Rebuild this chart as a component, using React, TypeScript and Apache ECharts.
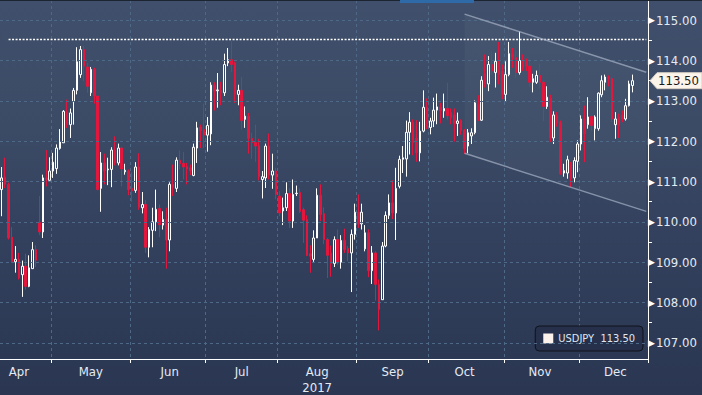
import React, { useEffect, useRef } from 'react';
import * as echarts from 'echarts';

// ---- data ----
const seriesName = 'USDJPY';
const lastPrice = 113.5;
const resistanceLevel = 114.52;
const firstDate = '2017-04-10';
const categoryCount = 189; // 185 trading days + 4 empty slots on the right

const opens = [
  110.80, 111.11, 110.93, 109.62, 109.01, 109.07, 108.69, 108.90, 108.40, 108.84,
  109.31, 109.99, 109.75, 111.09, 111.03, 111.26, 111.32, 111.82, 111.96, 112.73,
  112.41, 112.98, 113.26, 113.65, 114.27, 113.84, 113.20, 113.78, 113.12, 110.83,
  111.46, 111.29, 111.30, 111.78, 111.46, 111.83, 111.24, 111.26, 110.83, 110.78,
  111.36, 110.35, 110.43, 109.37, 109.79, 110.00, 110.33, 109.92, 110.06, 109.55,
  110.93, 110.83, 111.53, 111.45, 111.38, 111.34, 111.15, 111.83, 112.35, 112.29,
  112.15, 112.18, 113.39, 113.25, 113.26, 113.20, 113.94, 114.02, 113.94, 113.16,
  113.26, 112.54, 112.62, 112.07, 111.97, 111.89, 111.05, 111.09, 111.88, 111.16,
  111.26, 110.64, 110.27, 110.35, 110.70, 110.02, 110.70, 110.73, 110.30, 110.06,
  109.21, 109.07, 109.60, 110.66, 110.20, 109.56, 109.23, 108.97, 109.56, 109.00,
  109.54, 109.34, 109.23, 109.69, 110.24, 109.95, 109.33, 109.73, 108.79, 109.23,
  108.45, 108.07, 109.40, 110.16, 110.47, 110.22, 110.88, 111.55, 111.56, 112.22,
  112.47, 112.07, 111.71, 112.25, 112.85, 112.34, 112.50, 112.77, 112.85, 112.75,
  112.81, 112.71, 112.65, 112.44, 112.52, 112.27, 111.88, 112.13, 112.21, 112.91,
  112.52, 113.67, 113.42, 113.90, 113.70, 113.98, 113.74, 113.16, 113.65, 114.17,
  114.07, 113.70, 113.98, 114.00, 113.86, 113.46, 113.46, 113.63, 113.46, 112.86,
  113.07, 112.08, 112.64, 112.47, 111.21, 111.21, 111.48, 111.09, 111.50, 111.93,
  112.55, 112.41, 112.61, 112.31, 112.31, 113.15, 113.46, 113.59, 113.55, 112.41,
  112.60, 112.64, 112.55, 112.88, 113.38,
];
const closes = [
  111.09, 110.93, 109.60, 109.02, 109.07, 108.61, 108.90, 108.40, 108.86, 109.31,
  109.05, 109.75, 111.09, 111.05, 111.26, 111.48, 111.83, 111.98, 112.74, 112.41,
  112.70, 113.26, 113.97, 114.27, 113.86, 113.36, 113.78, 113.12, 110.80, 111.46,
  111.26, 111.31, 111.78, 111.46, 111.83, 111.31, 111.28, 110.80, 110.77, 111.36,
  110.36, 110.43, 109.37, 109.81, 110.00, 110.31, 109.93, 110.06, 109.55, 110.93,
  110.86, 111.53, 111.44, 111.36, 111.31, 111.27, 111.85, 112.33, 112.26, 112.15,
  112.39, 113.39, 113.24, 113.27, 113.20, 113.90, 114.02, 113.90, 113.16, 113.26,
  112.51, 112.62, 112.07, 111.96, 111.88, 111.12, 111.12, 111.88, 111.16, 111.26,
  110.68, 110.22, 110.35, 110.70, 110.02, 110.68, 110.71, 110.26, 110.04, 109.17,
  109.15, 109.60, 110.66, 110.18, 109.56, 109.17, 108.97, 109.56, 109.00, 109.54,
  109.31, 109.23, 109.69, 110.24, 109.95, 110.24, 109.73, 108.79, 109.23, 108.45,
  107.83, 109.40, 110.16, 110.47, 110.22, 110.83, 111.55, 111.59, 112.22, 112.47,
  111.96, 111.71, 112.25, 112.84, 112.34, 112.50, 112.77, 112.85, 112.75, 112.81,
  112.63, 112.58, 112.44, 112.50, 112.26, 111.82, 112.21, 112.21, 112.95, 112.52,
  113.51, 113.41, 113.90, 113.74, 113.98, 113.65, 113.16, 113.65, 114.17, 114.07,
  113.70, 114.00, 113.82, 113.86, 113.46, 113.55, 113.63, 113.46, 112.86, 113.09,
  112.08, 112.65, 112.45, 111.19, 111.27, 111.54, 111.07, 111.52, 111.93, 112.55,
  112.18, 112.60, 112.39, 112.60, 113.19, 113.50, 113.59, 113.55, 112.55, 112.55,
  112.39, 112.55, 112.88, 113.42, 113.50,
];
const lows = [
  110.14, 110.84, 109.56, 108.98, 108.74, 108.57, 108.14, 108.32, 108.38, 108.84,
  108.88, 109.67, 109.60, 110.88, 111.03, 111.09, 111.19, 111.79, 111.96, 112.33,
  112.08, 112.41, 113.16, 113.57, 113.49, 113.20, 113.12, 112.93, 110.78, 110.25,
  110.93, 110.91, 110.86, 111.40, 111.40, 110.88, 111.17, 110.66, 110.50, 110.72,
  110.30, 110.21, 109.23, 109.12, 109.37, 109.77, 109.62, 109.81, 108.84, 109.27,
  110.64, 110.74, 111.30, 111.05, 110.93, 111.16, 111.13, 111.46, 111.83, 111.83,
  111.74, 111.90, 112.76, 112.83, 112.89, 113.12, 113.86, 113.72, 112.95, 112.89,
  112.29, 112.33, 111.69, 111.56, 111.49, 111.03, 110.58, 110.84, 111.05, 110.82,
  110.56, 110.14, 109.92, 110.27, 109.85, 109.85, 110.64, 110.22, 109.48, 109.15,
  108.74, 109.01, 109.60, 110.02, 109.45, 108.61, 108.64, 108.88, 108.94, 108.84,
  109.23, 109.02, 108.26, 109.56, 109.85, 109.81, 109.27, 108.63, 108.46, 108.05,
  107.31, 108.07, 109.37, 110.07, 110.07, 109.55, 110.83, 111.21, 111.12, 111.67,
  111.65, 111.49, 111.50, 112.22, 112.30, 112.17, 112.35, 112.42, 112.44, 112.58,
  112.54, 112.42, 111.99, 112.13, 112.16, 111.68, 111.70, 111.93, 112.17, 112.50,
  112.50, 113.33, 113.24, 113.65, 113.33, 113.41, 113.04, 112.98, 113.61, 113.82,
  113.57, 113.65, 113.74, 113.74, 113.35, 113.21, 113.42, 113.30, 112.50, 112.80,
  111.98, 111.93, 112.36, 111.17, 111.12, 111.07, 110.86, 110.98, 111.23, 111.77,
  111.48, 112.31, 112.26, 112.02, 112.26, 113.09, 113.26, 113.36, 112.47, 112.06,
  112.08, 112.47, 112.51, 112.86, 113.21,
];
const highs = [
  111.36, 111.59, 110.97, 109.87, 109.40, 109.23, 109.04, 109.21, 109.17, 109.50,
  109.42, 110.64, 111.17, 111.78, 111.60, 111.71, 111.92, 112.30, 112.77, 113.03,
  112.81, 113.32, 114.33, 114.36, 114.36, 113.94, 113.84, 113.82, 113.12, 111.73,
  111.69, 111.59, 111.85, 112.12, 111.94, 111.86, 111.44, 111.30, 111.23, 111.48,
  111.70, 110.74, 110.54, 109.87, 110.35, 110.80, 110.43, 110.26, 110.35, 110.98,
  111.42, 111.60, 111.77, 111.73, 111.46, 111.42, 111.94, 112.48, 112.41, 112.93,
  112.60, 113.46, 113.46, 113.69, 113.47, 114.17, 114.31, 114.48, 113.97, 113.40,
  113.59, 112.86, 112.70, 112.21, 112.41, 112.06, 111.26, 111.94, 112.19, 111.69,
  111.34, 110.76, 110.60, 110.98, 110.83, 111.05, 110.90, 110.83, 110.35, 110.16,
  109.42, 109.79, 110.83, 110.93, 110.36, 109.60, 109.41, 109.64, 109.81, 109.67,
  109.83, 109.40, 109.81, 110.45, 110.68, 110.45, 109.92, 109.81, 109.40, 109.27,
  108.57, 109.50, 110.26, 110.68, 111.03, 111.34, 111.64, 111.88, 112.51, 112.72,
  112.54, 112.52, 112.48, 113.26, 113.06, 112.58, 113.08, 113.18, 112.95, 113.18,
  113.45, 112.81, 112.81, 112.71, 112.54, 112.30, 112.30, 112.32, 113.01, 113.14,
  113.61, 114.15, 114.11, 114.23, 114.19, 114.46, 113.90, 113.98, 114.46, 114.31,
  114.23, 114.72, 114.15, 114.05, 114.02, 113.67, 113.75, 113.92, 113.50, 113.36,
  113.15, 112.74, 112.72, 112.51, 111.44, 111.64, 111.48, 111.60, 112.02, 112.64,
  112.88, 113.09, 112.64, 112.64, 113.21, 113.63, 113.65, 113.63, 113.59, 112.72,
  112.68, 112.76, 113.05, 113.50, 113.65,
];

const yLabelValues = [107, 108, 109, 110, 111, 112, 113, 114, 115];
const yTickValues = [107, 107.5, 108, 108.5, 109, 109.5, 110, 110.5, 111, 111.5, 112, 112.5, 113, 113.5, 114, 114.5, 115];
const xLabelDates = ['2017-04-17', '2017-05-16', '2017-06-16', '2017-07-17', '2017-08-16', '2017-09-15', '2017-10-16', '2017-11-15', '2017-12-15'];
const xLabelTexts = ['Apr', 'May', 'Jun', 'Jul', 'Aug\n2017', 'Sep', 'Oct', 'Nov', 'Dec'];
// trend channel: [category index, price]
const channelUpper = [[135, 115.15], [188, 113.71]];
const channelLower = [[135, 111.70], [188, 110.26]];
const resistanceFrom = 1.5;
const resistanceTo = 188;

const FONT = '"DejaVu Sans Condensed", "DejaVu Sans", sans-serif';
const GRID_COLOR = '#4e6987';
const CHANNEL_COLOR = 'rgba(160,172,192,0.75)';

function buildCategories(start: string, n: number): string[] {
  const [y, m, d] = start.split('-').map(Number);
  const dt = new Date(Date.UTC(y, m - 1, d));
  const out: string[] = [];
  while (out.length < n) {
    const wd = dt.getUTCDay();
    if (wd !== 0 && wd !== 6) out.push(dt.toISOString().slice(0, 10));
    dt.setUTCDate(dt.getUTCDate() + 1);
  }
  return out;
}

export default function App() {
  const ref = useRef<HTMLDivElement>(null);

  useEffect(() => {
    if (!ref.current) return;
    const chart = echarts.init(ref.current, undefined, { renderer: 'svg' });

    const cats = buildCategories(firstDate, categoryCount);
    const monthStart = new Set<number>();
    cats.forEach((c, i) => {
      if (i > 0 && c.slice(5, 7) !== cats[i - 1].slice(5, 7)) monthStart.add(i);
    });
    const labelByDate: Record<string, string> = {};
    xLabelDates.forEach((d, i) => (labelByDate[d] = xLabelTexts[i]));

    const ohlc = opens.map((o, i) => [o, closes[i], lows[i], highs[i]]);

    chart.setOption({
      animation: false,
      backgroundColor: 'transparent',
      grid: { left: 0, right: 54, top: 0, bottom: 36, containLabel: false },
      legend: {
        show: true,
        right: 59,
        bottom: 44,
        orient: 'horizontal',
        selectedMode: false,
        data: [{ name: seriesName, icon: 'rect', itemStyle: { color: '#fdf1ec', borderWidth: 0 } }],
        itemWidth: 10,
        itemHeight: 10,
        backgroundColor: '#27304a',
        borderColor: '#0e121b',
        borderWidth: 1,
        borderRadius: 4,
        padding: [7, 8, 7, 8],
        textStyle: { color: '#dfe6ef', fontSize: 11, fontFamily: FONT },
        formatter: (name: string) => `${name}  ${lastPrice.toFixed(2)}`,
      },
      xAxis: {
        type: 'category',
        data: cats,
        boundaryGap: true,
        axisLine: { show: true, lineStyle: { color: '#ffffff', width: 1 } },
        axisTick: {
          show: true,
          interval: (i: number) => monthStart.has(i),
          length: 4,
          lineStyle: { color: '#ffffff' },
        },
        axisLabel: {
          interval: (_i: number, v: string) => !!labelByDate[v],
          formatter: (v: string) => labelByDate[v] || '',
          color: '#e4ebf3',
          fontSize: 13,
          fontFamily: FONT,
          margin: 4,
          lineHeight: 16,
        },
        splitLine: {
          show: true,
          interval: (i: number) => monthStart.has(i),
          lineStyle: { color: GRID_COLOR, type: [3, 3], width: 1 },
        },
      },
      yAxis: {
        type: 'value',
        position: 'right',
        min: 106.6,
        max: 115.5,
        axisLine: { show: true, lineStyle: { color: '#ffffff', width: 1 } },
        axisTick: { show: true, customValues: yTickValues, length: 4, lineStyle: { color: '#ffffff' } },
        axisLabel: {
          customValues: yLabelValues,
          margin: 0,
          formatter: (v: number) => `{t|▶}{v|${v.toFixed(2)}}`,
          rich: {
            t: { color: '#ffffff', fontSize: 9, fontFamily: 'DejaVu Sans', padding: [0, 1, 0, 0] },
            v: { color: '#e4ebf3', fontSize: 13, fontFamily: FONT },
          },
        },
        splitLine: { show: false },
      },
      series: [
        {
          type: 'line',
          name: 'grid',
          data: [],
          z: 1,
          silent: true,
          markLine: {
            silent: true,
            symbol: ['none', 'none'],
            label: { show: false },
            lineStyle: { color: GRID_COLOR, type: [3, 3], width: 1 },
            data: yLabelValues.map((v) => ({ yAxis: v })),
          },
        },
        {
          type: 'candlestick',
          name: seriesName,
          data: ohlc,
          barWidth: 2,
          z: 3,
          itemStyle: {
            color: 'rgba(0,0,0,0)',
            color0: '#e3173e',
            borderColor: '#ffffff',
            borderColor0: '#e3173e',
            borderWidth: 1,
          },
        },
        {
          type: 'line',
          name: 'overlay',
          data: [],
          z: 4,
          silent: true,
          markLine: {
            silent: true,
            symbol: ['none', 'none'],
            label: { show: false },
            data: [
              [
                { coord: [resistanceFrom, resistanceLevel], lineStyle: { color: '#ffffff', type: [2, 1.5], width: 1.4 } },
                { coord: [resistanceTo, resistanceLevel] },
              ],
              [
                { coord: channelUpper[0], lineStyle: { color: CHANNEL_COLOR, type: 'solid', width: 1.5 } },
                { coord: channelUpper[1] },
              ],
              [
                { coord: channelLower[0], lineStyle: { color: CHANNEL_COLOR, type: 'solid', width: 1.5 } },
                { coord: channelLower[1] },
              ],
            ],
          },
        },
      ],
    });

    const py = chart.convertToPixel({ yAxisIndex: 0 }, lastPrice) as number;
    const toPx = (p: number[]) => chart.convertToPixel({ gridIndex: 0 }, p) as number[];
    const u0 = toPx(channelUpper[0]);
    const u1 = toPx(channelUpper[1]);
    const l0 = toPx(channelLower[0]);
    const l1 = toPx(channelLower[1]);
    chart.setOption({
      graphic: [
        {
          type: 'polygon',
          shape: { points: [u0, u1, l1, l0] },
          style: { fill: 'rgba(255,255,255,0.035)' },
          z: -1,
          silent: true,
        },
        { type: 'rect', shape: { x: 0, y: 0, width: 702, height: 1 }, style: { fill: '#1c2331' }, z: 50 },
        { type: 'rect', shape: { x: 400, y: 0, width: 74, height: 3 }, style: { fill: '#2e6aa8' }, z: 51 },
        {
          type: 'polygon',
          shape: { points: [[650, py], [657, py - 8], [702, py - 8], [702, py + 8], [657, py + 8]] },
          style: { fill: '#fcf4ea', stroke: '#d6cec2', lineWidth: 1 },
          z: 100,
        },
        {
          type: 'text',
          x: 658,
          y: py,
          style: { text: lastPrice.toFixed(2), fill: '#1b1b1b', fontSize: 13, fontFamily: FONT, verticalAlign: 'middle', align: 'left' },
          z: 101,
        },
      ],
    });

    return () => chart.dispose();
  }, []);

  return (
    <div
      style={{
        position: 'fixed',
        left: 0,
        top: 0,
        width: 702,
        height: 395,
        background:
          'linear-gradient(180deg, #404f6b 0px, #3b4a65 130px, #34425f 220px, #2d3a56 340px, #2a3652 395px)',
      }}
    >
      <div ref={ref} style={{ width: 702, height: 395 }} />
    </div>
  );
}
